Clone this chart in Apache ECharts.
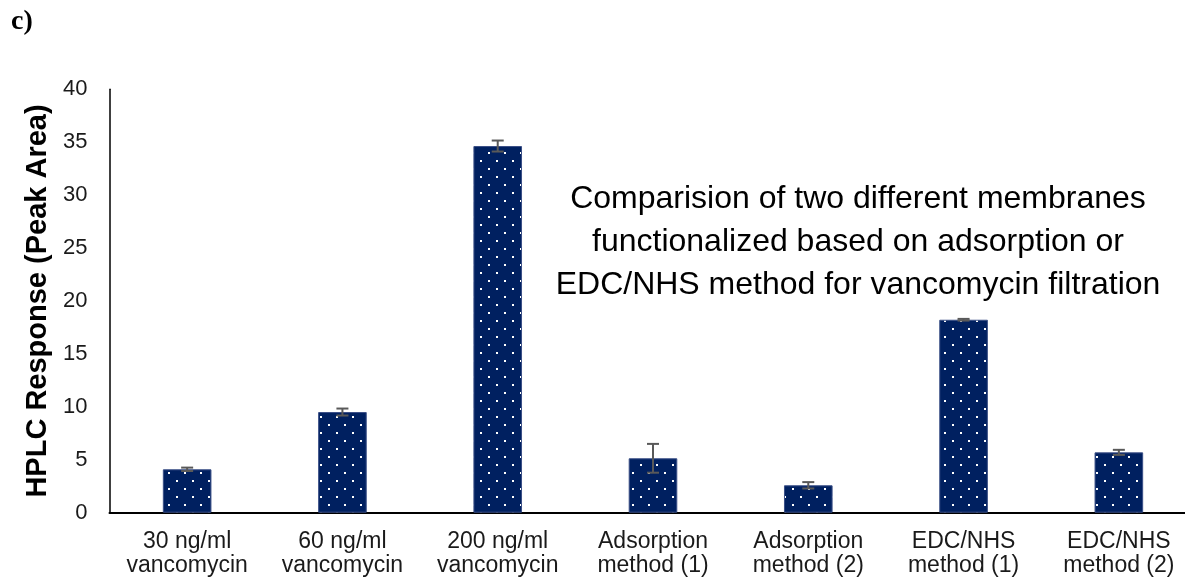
<!DOCTYPE html>
<html>
<head>
<meta charset="utf-8">
<style>
  html, body { margin: 0; padding: 0; background: #ffffff; }
  #chart { width: 1185px; height: 581px; }
</style>
<script src="https://cdn.jsdelivr.net/npm/echarts@6/dist/echarts.min.js"></script>
</head>
<body>
<div id="chart"></div>
<script>
// Sample groups on the x axis
const categories = [
  '30 ng/ml\nvancomycin',
  '60 ng/ml\nvancomycin',
  '200 ng/ml\nvancomycin',
  'Adsorption\nmethod (1)',
  'Adsorption\nmethod (2)',
  'EDC/NHS\nmethod (1)',
  'EDC/NHS\nmethod (2)'
];
// Mean HPLC peak area for each group
const peakArea = [4.10, 9.51, 34.64, 5.14, 2.59, 18.23, 5.70];
// Standard deviation for each group
const peakAreaSD = [0.16, 0.33, 0.52, 1.36, 0.30, 0.08, 0.24];
// Value axis ticks
const yTicks = [0, 5, 10, 15, 20, 25, 30, 35, 40];

const noteText = 'Comparision of two different membranes\nfunctionalized based on adsorption or\nEDC/NHS method for vancomycin filtration';

// Dotted navy fill for the bars
function dottedPattern() {
  const c = document.createElement('canvas');
  c.width = 16; c.height = 16;
  const g = c.getContext('2d');
  g.fillStyle = '#002060';
  g.fillRect(0, 0, 16, 16);
  g.fillStyle = '#ffffff';
  g.fillRect(0, 0, 2, 2);
  g.fillRect(8, 8, 2, 2);
  return c;
}

const errorData = peakArea.map((v, i) => [i, v - peakAreaSD[i], v + peakAreaSD[i]]);

const chart = echarts.init(document.getElementById('chart'), null, { renderer: 'canvas' });

chart.setOption({
  animation: false,
  backgroundColor: '#ffffff',
  // plot runs past the right edge, so the last category is clipped
  grid: {
    left: 109.5, width: 1087, top: 89.3, bottom: 68.3,
    containLabel: false, outerBoundsMode: 'none'
  },
  xAxis: {
    type: 'category',
    data: categories,
    axisLine: { show: true, lineStyle: { color: '#000000', width: 2 } },
    axisTick: { show: false },
    axisLabel: {
      interval: 0,
      color: '#1a1a1a',
      fontFamily: 'Liberation Sans, Arial, sans-serif',
      fontSize: 23,
      lineHeight: 24,
      margin: 17
    }
  },
  yAxis: {
    type: 'value',
    min: yTicks[0],
    max: yTicks[yTicks.length - 1],
    interval: yTicks[1] - yTicks[0],
    name: 'HPLC Response (Peak Area)',
    nameLocation: 'middle',
    nameGap: 48,
    nameTextStyle: {
      color: '#000000',
      fontFamily: 'Liberation Sans, Arial, sans-serif',
      fontSize: 29,
      fontWeight: 'bold'
    },
    axisLine: { show: true, lineStyle: { color: '#000000', width: 1.5 } },
    axisTick: { show: false },
    splitLine: { show: false },
    axisLabel: {
      color: '#1a1a1a',
      fontFamily: 'Liberation Sans, Arial, sans-serif',
      fontSize: 22,
      margin: 22
    }
  },
  graphic: [
    {
      type: 'text',
      left: 11,
      top: 8,
      style: {
        text: 'c)',
        fill: '#000000',
        font: 'bold 28px "Liberation Serif", "Times New Roman", serif'
      }
    },
    {
      type: 'text',
      left: 552,
      top: 178,
      style: {
        text: noteText,
        fill: '#000000',
        textAlign: 'center',
        font: '32px "Liberation Sans", Arial, sans-serif',
        lineHeight: 43,
        width: 612
      }
    }
  ],
  series: [
    {
      type: 'bar',
      data: peakArea,
      barWidth: '31.3%',
      itemStyle: {
        color: { image: dottedPattern(), repeat: 'repeat' },
        borderColor: '#3a4f86',
        borderWidth: 1
      }
    },
    {
      type: 'custom',
      data: errorData,
      z: 10,
      renderItem: function (params, api) {
        const x = api.value(0);
        const lo = api.coord([x, api.value(1)]);
        const hi = api.coord([x, api.value(2)]);
        const half = 6;
        const style = { stroke: '#595959', lineWidth: 2 };
        return {
          type: 'group',
          children: [
            { type: 'line', shape: { x1: lo[0], y1: lo[1], x2: hi[0], y2: hi[1] }, style: style },
            { type: 'line', shape: { x1: hi[0] - half, y1: hi[1], x2: hi[0] + half, y2: hi[1] }, style: style },
            { type: 'line', shape: { x1: lo[0] - half, y1: lo[1], x2: lo[0] + half, y2: lo[1] }, style: style }
          ]
        };
      }
    }
  ]
});
</script>
</body>
</html>
